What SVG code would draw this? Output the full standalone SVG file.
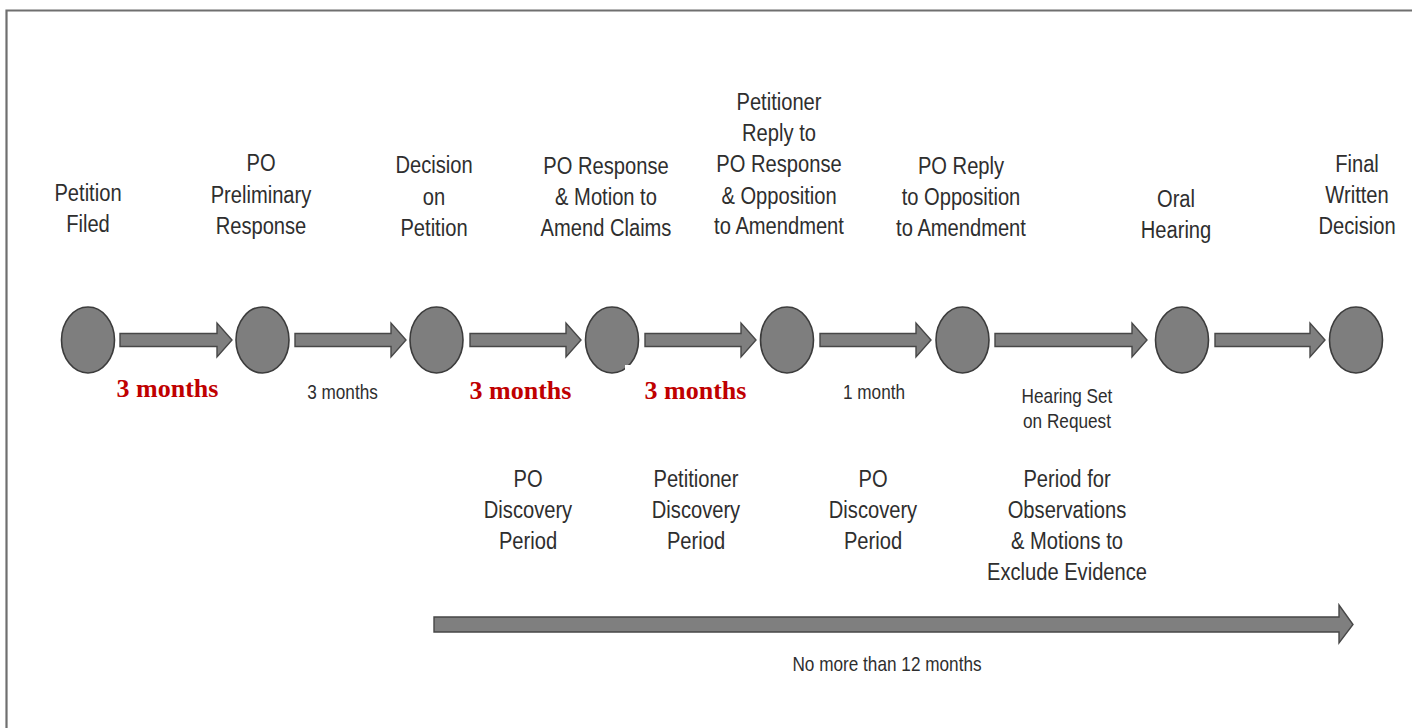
<svg xmlns="http://www.w3.org/2000/svg" width="1412" height="728" viewBox="0 0 1412 728">
<defs>
<style>
.frame{fill:none;stroke:#6f6f6f;stroke-width:2.2}
.node{fill:#7e7e7e;stroke:#3c3c3c;stroke-width:1.6}
.arr{fill:#7f7f7f;stroke:#474747;stroke-width:1.4;stroke-linejoin:miter}
.lbl{font-family:"Liberation Sans",Arial,sans-serif;font-size:23px;fill:#2e2e2e;text-anchor:middle}
.sm{font-family:"Liberation Sans",Arial,sans-serif;font-size:20px;fill:#2e2e2e;text-anchor:middle}
.red{font-family:"Liberation Serif","Times New Roman",serif;font-size:26px;font-weight:bold;fill:#c00000;text-anchor:middle}
</style>
</defs>
<rect width="1412" height="728" fill="#ffffff"/>
<path class="frame" d="M6.5 728 V10.5 H1412"/>

<g id="connectors">
<polygon class="arr" points="120,333.5 217,333.5 217,323 232,340 217,357 217,346.5 120,346.5"/>
<polygon class="arr" points="295,333.5 391,333.5 391,323 406,340 391,357 391,346.5 295,346.5"/>
<polygon class="arr" points="470,333.5 566,333.5 566,323 581,340 566,357 566,346.5 470,346.5"/>
<polygon class="arr" points="645,333.5 741,333.5 741,323 756,340 741,357 741,346.5 645,346.5"/>
<polygon class="arr" points="820,333.5 916,333.5 916,323 931,340 916,357 916,346.5 820,346.5"/>
<polygon class="arr" points="995,333.5 1132,333.5 1132,323 1147,340 1132,357 1132,346.5 995,346.5"/>
<polygon class="arr" points="1215,333.5 1310,333.5 1310,323 1325,340 1310,357 1310,346.5 1215,346.5"/>
<polygon class="arr" points="434,617 1339,617 1339,605 1353,624.5 1339,643 1339,632 434,632"/>
</g>

<g id="n1">
<ellipse class="node" cx="88" cy="340" rx="26.5" ry="33"/>
<g transform="translate(88 0) scale(0.875 1)"><text class="lbl" x="0" y="201">Petition</text><text class="lbl" x="0" y="232">Filed</text></g>
</g>
<g id="n2">
<ellipse class="node" cx="262.5" cy="340" rx="26.5" ry="33"/>
<g transform="translate(261 0) scale(0.875 1)"><text class="lbl" x="0" y="171">PO</text><text class="lbl" x="0" y="203">Preliminary</text><text class="lbl" x="0" y="234">Response</text></g>
</g>
<g id="n3">
<ellipse class="node" cx="436.5" cy="340" rx="26.5" ry="33"/>
<g transform="translate(434 0) scale(0.875 1)"><text class="lbl" x="0" y="173">Decision</text><text class="lbl" x="0" y="205">on</text><text class="lbl" x="0" y="236">Petition</text></g>
</g>
<g id="n4">
<ellipse class="node" cx="612" cy="340" rx="26.5" ry="33"/>
<g transform="translate(606 0) scale(0.875 1)"><text class="lbl" x="0" y="174">PO Response</text><text class="lbl" x="0" y="205">&amp; Motion to</text><text class="lbl" x="0" y="236">Amend Claims</text></g>
</g>
<g id="n5">
<ellipse class="node" cx="787" cy="340" rx="26.5" ry="33"/>
<g transform="translate(779 0) scale(0.875 1)"><text class="lbl" x="0" y="110">Petitioner</text><text class="lbl" x="0" y="141">Reply to</text><text class="lbl" x="0" y="172">PO Response</text><text class="lbl" x="0" y="204">&amp; Opposition</text><text class="lbl" x="0" y="234">to Amendment</text></g>
</g>
<g id="n6">
<ellipse class="node" cx="962.5" cy="340" rx="26.5" ry="33"/>
<g transform="translate(961 0) scale(0.875 1)"><text class="lbl" x="0" y="174">PO Reply</text><text class="lbl" x="0" y="205">to Opposition</text><text class="lbl" x="0" y="236">to Amendment</text></g>
</g>
<g id="n7">
<ellipse class="node" cx="1182" cy="340" rx="26.5" ry="33"/>
<g transform="translate(1176 0) scale(0.875 1)"><text class="lbl" x="0" y="207">Oral</text><text class="lbl" x="0" y="238">Hearing</text></g>
</g>
<g id="n8">
<ellipse class="node" cx="1356" cy="340" rx="26.5" ry="33"/>
<g transform="translate(1357 0) scale(0.875 1)"><text class="lbl" x="0" y="172">Final</text><text class="lbl" x="0" y="203">Written</text><text class="lbl" x="0" y="234">Decision</text></g>
</g>

<g id="durations">
<rect x="459" y="362" width="125" height="44" fill="#ffffff"/>
<rect x="625" y="365" width="130" height="42" fill="#ffffff"/>
<text class="red" x="167.5" y="397">3 months</text>
<g transform="translate(342.5 0) scale(0.86 1)"><text class="sm" x="0" y="399">3 months</text></g>
<text class="red" x="520.5" y="399">3 months</text>
<text class="red" x="695.5" y="399">3 months</text>
<g transform="translate(874 0) scale(0.86 1)"><text class="sm" x="0" y="399">1 month</text></g>
<g transform="translate(1067 0) scale(0.86 1)"><text class="sm" x="0" y="403">Hearing Set</text><text class="sm" x="0" y="428">on Request</text></g>
</g>

<g id="periods">
<g transform="translate(528 0) scale(0.875 1)"><text class="lbl" x="0" y="487">PO</text><text class="lbl" x="0" y="518">Discovery</text><text class="lbl" x="0" y="549">Period</text></g>
<g transform="translate(696 0) scale(0.875 1)"><text class="lbl" x="0" y="487">Petitioner</text><text class="lbl" x="0" y="518">Discovery</text><text class="lbl" x="0" y="549">Period</text></g>
<g transform="translate(873 0) scale(0.875 1)"><text class="lbl" x="0" y="487">PO</text><text class="lbl" x="0" y="518">Discovery</text><text class="lbl" x="0" y="549">Period</text></g>
<g transform="translate(1067 0) scale(0.875 1)"><text class="lbl" x="0" y="487">Period for</text><text class="lbl" x="0" y="518">Observations</text><text class="lbl" x="0" y="549">&amp; Motions to</text><text class="lbl" x="0" y="580">Exclude Evidence</text></g>
<g transform="translate(887 0) scale(0.86 1)"><text class="sm" x="0" y="671">No more than 12 months</text></g>
</g>
</svg>
